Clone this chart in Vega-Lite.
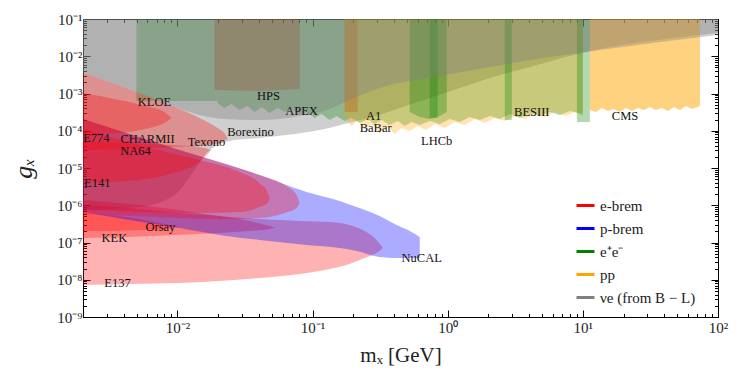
{
  "$schema": "https://vega.github.io/schema/vega-lite/v6.json",
  "width": 635,
  "height": 298,
  "autosize": {"type": "none"},
  "padding": {"left": 83, "top": 19, "right": 38, "bottom": 60},
  "background": "white",
  "config": {"view": {"stroke": "black", "strokeWidth": 1}, "legend": {"labelFont": "Liberation Serif"}},
  "datasets": {
    "regions": [
      {"r":"Borexino","g":"νe (from B − L)","x":0.002,"lo":7.45e-7,"hi":0.1},
      {"r":"Borexino","g":"νe (from B − L)","x":0.00523,"lo":8.97e-7,"hi":0.1},
      {"r":"Borexino","g":"νe (from B − L)","x":0.00951,"lo":1.88e-6,"hi":0.1},
      {"r":"Borexino","g":"νe (from B − L)","x":0.01336,"lo":8.83e-6,"hi":0.1},
      {"r":"Borexino","g":"νe (from B − L)","x":0.01668,"lo":2.69e-5,"hi":0.1},
      {"r":"Borexino","g":"νe (from B − L)","x":0.02047,"lo":4.41e-5,"hi":0.1},
      {"r":"Borexino","g":"νe (from B − L)","x":0.02427,"lo":5.31e-5,"hi":0.1},
      {"r":"Borexino","g":"νe (from B − L)","x":0.04047,"lo":6.39e-5,"hi":0.1},
      {"r":"Borexino","g":"νe (from B − L)","x":0.06412,"lo":7.69e-5,"hi":0.1},
      {"r":"Borexino","g":"νe (from B − L)","x":0.1127,"lo":1.05e-4,"hi":0.1},
      {"r":"Borexino","g":"νe (from B − L)","x":0.1977,"lo":1.72e-4,"hi":0.1},
      {"r":"Borexino","g":"νe (from B − L)","x":0.3133,"lo":2.65e-4,"hi":0.1},
      {"r":"Borexino","g":"νe (from B − L)","x":0.4409,"lo":4.08e-4,"hi":0.1},
      {"r":"Borexino","g":"νe (from B − L)","x":0.7357,"lo":7.57e-4,"hi":0.1},
      {"r":"Borexino","g":"νe (from B − L)","x":1.227,"lo":1.41e-3,"hi":0.1},
      {"r":"Borexino","g":"νe (from B − L)","x":2.047,"lo":2.61e-3,"hi":0.1},
      {"r":"Borexino","g":"νe (from B − L)","x":4.047,"lo":5.14e-3,"hi":0.1},
      {"r":"Borexino","g":"νe (from B − L)","x":8.017,"lo":1.02e-2,"hi":0.1},
      {"r":"Borexino","g":"νe (from B − L)","x":15.85,"lo":1.77e-2,"hi":0.1},
      {"r":"Borexino","g":"νe (from B − L)","x":31.33,"lo":2.57e-2,"hi":0.1},
      {"r":"Borexino","g":"νe (from B − L)","x":62.05,"lo":3.50e-2,"hi":0.1},
      {"r":"Borexino","g":"νe (from B − L)","x":100,"lo":4.21e-2,"hi":0.1},

      {"r":"Texono","g":"νe (from B − L)","x":0.002,"lo":3.55e-3,"hi":0.1},
      {"r":"Texono","g":"νe (from B − L)","x":0.00313,"lo":2.04e-3,"hi":0.1},
      {"r":"Texono","g":"νe (from B − L)","x":0.00497,"lo":1.10e-3,"hi":0.1},
      {"r":"Texono","g":"νe (from B − L)","x":0.00918,"lo":4.62e-4,"hi":0.1},
      {"r":"Texono","g":"νe (from B − L)","x":0.01456,"lo":2.65e-4,"hi":0.1},
      {"r":"Texono","g":"νe (from B − L)","x":0.02228,"lo":2.07e-4,"hi":0.1},
      {"r":"Texono","g":"νe (from B − L)","x":0.04047,"lo":1.94e-4,"hi":0.1},
      {"r":"Texono","g":"νe (from B − L)","x":0.08017,"lo":2.49e-4,"hi":0.1},
      {"r":"Texono","g":"νe (from B − L)","x":0.1337,"lo":3.84e-4,"hi":0.1},
      {"r":"Texono","g":"νe (from B − L)","x":0.188,"lo":6.69e-4,"hi":0.1},
      {"r":"Texono","g":"νe (from B − L)","x":0.3133,"lo":1.41e-3,"hi":0.1},
      {"r":"Texono","g":"νe (from B − L)","x":0.8724,"lo":2.95e-3,"hi":0.1},
      {"r":"Texono","g":"νe (from B − L)","x":2.047,"lo":5.14e-3,"hi":0.1},
      {"r":"Texono","g":"νe (from B − L)","x":5.698,"lo":9.55e-3,"hi":0.1},
      {"r":"Texono","g":"νe (from B − L)","x":13.37,"lo":1.47e-2,"hi":0.1},
      {"r":"Texono","g":"νe (from B − L)","x":37.14,"lo":2.41e-2,"hi":0.1},
      {"r":"Texono","g":"νe (from B − L)","x":100,"lo":3.72e-2,"hi":0.1},

      {"r":"E137","g":"e-brem","x":0.002,"lo":7.23e-9,"hi":1.02e-6},
      {"r":"E137","g":"e-brem","x":0.00441,"lo":7.69e-9,"hi":8.44e-7},
      {"r":"E137","g":"e-brem","x":0.01,"lo":8.18e-9,"hi":6.19e-7},
      {"r":"E137","g":"e-brem","x":0.02047,"lo":9.25e-9,"hi":5.14e-7},
      {"r":"E137","g":"e-brem","x":0.04047,"lo":1.11e-8,"hi":4.27e-7},
      {"r":"E137","g":"e-brem","x":0.08017,"lo":1.43e-8,"hi":3.78e-7},
      {"r":"E137","g":"e-brem","x":0.1337,"lo":1.95e-8,"hi":3.55e-7},
      {"r":"E137","g":"e-brem","x":0.188,"lo":2.65e-8,"hi":2.95e-7},
      {"r":"E137","g":"e-brem","x":0.2427,"lo":3.84e-8,"hi":2.04e-7},
      {"r":"E137","g":"e-brem","x":0.2877,"lo":4.91e-8,"hi":1.32e-7},
      {"r":"E137","g":"e-brem","x":0.319,"lo":6.29e-8,"hi":8.57e-8},
      {"r":"E137","g":"e-brem","x":0.3303,"lo":7.3e-8,"hi":7.3e-8},
      {"r":"KEK","g":"e-brem","x":0.002,"lo":1.32e-7,"hi":1.38e-6},
      {"r":"KEK","g":"e-brem","x":0.00441,"lo":1.41e-7,"hi":1.08e-6},
      {"r":"KEK","g":"e-brem","x":0.01,"lo":1.59e-7,"hi":7.45e-7},
      {"r":"KEK","g":"e-brem","x":0.02047,"lo":1.80e-7,"hi":5.14e-7},
      {"r":"KEK","g":"e-brem","x":0.03413,"lo":2.04e-7,"hi":3.78e-7},
      {"r":"KEK","g":"e-brem","x":0.04797,"lo":2.30e-7,"hi":2.77e-7},
      {"r":"KEK","g":"e-brem","x":0.0532,"lo":2.53e-7,"hi":2.53e-7},
      {"r":"Orsay","g":"e-brem","x":0.002,"lo":2.04e-7,"hi":6.19e-7},
      {"r":"Orsay","g":"e-brem","x":0.00313,"lo":2.04e-7,"hi":5.47e-7},
      {"r":"Orsay","g":"e-brem","x":0.00523,"lo":2.17e-7,"hi":4.27e-7},
      {"r":"Orsay","g":"e-brem","x":0.00736,"lo":2.23e-7,"hi":3.34e-7},
      {"r":"Orsay","g":"e-brem","x":0.01035,"lo":2.6e-7,"hi":2.6e-7},
      {"r":"NA64","g":"e-brem","x":0.002,"lo":5.82e-7,"hi":2.07e-4},
      {"r":"NA64","g":"e-brem","x":0.00441,"lo":5.14e-7,"hi":8.18e-5},
      {"r":"NA64","g":"e-brem","x":0.01035,"lo":4.55e-7,"hi":3.04e-5},
      {"r":"NA64","g":"e-brem","x":0.02154,"lo":4.27e-7,"hi":1.36e-5},
      {"r":"NA64","g":"e-brem","x":0.04047,"lo":4.55e-7,"hi":6.49e-6},
      {"r":"NA64","g":"e-brem","x":0.0621,"lo":6.19e-7,"hi":3.50e-6},
      {"r":"NA64","g":"e-brem","x":0.07608,"lo":8.44e-7,"hi":1.88e-6},
      {"r":"NA64","g":"e-brem","x":0.08017,"lo":1.15e-6,"hi":1.15e-6},

      {"r":"NuCAL","g":"p-brem","x":0.002,"lo":6.59e-7,"hi":2.07e-4},
      {"r":"NuCAL","g":"p-brem","x":0.00441,"lo":4.02e-7,"hi":8.18e-5},
      {"r":"NuCAL","g":"p-brem","x":0.01035,"lo":2.45e-7,"hi":3.04e-5},
      {"r":"NuCAL","g":"p-brem","x":0.02154,"lo":1.54e-7,"hi":1.36e-5},
      {"r":"NuCAL","g":"p-brem","x":0.04047,"lo":1.17e-7,"hi":6.49e-6},
      {"r":"NuCAL","g":"p-brem","x":0.0903,"lo":8.57e-8,"hi":2.27e-6},
      {"r":"NuCAL","g":"p-brem","x":0.1585,"lo":7.11e-8,"hi":1.30e-6},
      {"r":"NuCAL","g":"p-brem","x":0.2117,"lo":5.92e-8,"hi":8.97e-7},
      {"r":"NuCAL","g":"p-brem","x":0.3133,"lo":4.08e-8,"hi":5.14e-7},
      {"r":"NuCAL","g":"p-brem","x":0.4188,"lo":3.84e-8,"hi":2.95e-7},
      {"r":"NuCAL","g":"p-brem","x":0.5231,"lo":3.84e-8,"hi":2.04e-7},
      {"r":"NuCAL","g":"p-brem","x":0.6205,"lo":3.84e-8,"hi":1.41e-7},

      {"r":"E141","g":"e-brem","x":0.002,"lo":7.45e-7,"hi":1.19e-4},
      {"r":"E141","g":"e-brem","x":0.00621,"lo":6.59e-7,"hi":3.44e-5},
      {"r":"E141","g":"e-brem","x":0.01456,"lo":6.19e-7,"hi":1.64e-5},
      {"r":"E141","g":"e-brem","x":0.02878,"lo":6.59e-7,"hi":7.81e-6},
      {"r":"E141","g":"e-brem","x":0.04047,"lo":8.97e-7,"hi":3.96e-6},
      {"r":"E141","g":"e-brem","x":0.04642,"lo":1.15e-6,"hi":2.27e-6},
      {"r":"E141","g":"e-brem","x":0.04797,"lo":1.57e-6,"hi":1.57e-6},
      {"r":"E141b","g":"e-brem","x":0.002,"lo":3.96e-6,"hi":4.99e-5},
      {"r":"E141b","g":"e-brem","x":0.00441,"lo":4.48e-6,"hi":4.69e-5},
      {"r":"E141b","g":"e-brem","x":0.00873,"lo":6.90e-6,"hi":4.14e-5},
      {"r":"E141b","g":"e-brem","x":0.01456,"lo":1.45e-5,"hi":3.66e-5},
      {"r":"E141b","g":"e-brem","x":0.01786,"lo":3.04e-5,"hi":3.04e-5},
      {"r":"E774","g":"e-brem","x":0.002,"lo":7.69e-5,"hi":1.03e-3},
      {"r":"E774","g":"e-brem","x":0.00372,"lo":8.71e-5,"hi":6.69e-4},
      {"r":"E774","g":"e-brem","x":0.00621,"lo":1.19e-4,"hi":4.34e-4},
      {"r":"E774","g":"e-brem","x":0.00801,"lo":1.61e-4,"hi":3.19e-4},
      {"r":"E774","g":"e-brem","x":0.00903,"lo":2.2e-4,"hi":2.2e-4},
      {"r":"CHARMII","g":"e-brem","x":0.002,"lo":3.04e-5,"hi":3.55e-3},
      {"r":"CHARMII","g":"e-brem","x":0.00313,"lo":3.14e-5,"hi":2.04e-3},
      {"r":"CHARMII","g":"e-brem","x":0.00497,"lo":3.24e-5,"hi":1.10e-3},
      {"r":"CHARMII","g":"e-brem","x":0.00918,"lo":3.66e-5,"hi":4.62e-4},
      {"r":"CHARMII","g":"e-brem","x":0.01456,"lo":3.90e-5,"hi":2.20e-4},
      {"r":"CHARMII","g":"e-brem","x":0.01879,"lo":4.41e-5,"hi":1.34e-4},
      {"r":"CHARMII","g":"e-brem","x":0.02047,"lo":4.69e-5,"hi":1.10e-4},
      {"r":"CHARMII","g":"e-brem","x":0.02228,"lo":5.31e-5,"hi":8.71e-5},
      {"r":"CHARMII","g":"e-brem","x":0.02346,"lo":6.19e-5,"hi":6.19e-5},

      {"r":"KLOE","g":"e⁺e⁻","x":0.00497,"lo":6.29e-4,"hi":0.1},
      {"r":"KLOE","g":"e⁺e⁻","x":0.01977,"lo":6.29e-4,"hi":0.1},
      {"r":"BaBar","g":"e⁺e⁻","x":0.01977,"lo":5.56e-4,"hi":0.1},
      {"r":"BaBar","g":"e⁺e⁻","x":0.02228,"lo":4.08e-4,"hi":0.1},
      {"r":"BaBar","g":"e⁺e⁻","x":0.02512,"lo":5.23e-4,"hi":0.1},
      {"r":"BaBar","g":"e⁺e⁻","x":0.02878,"lo":3.61e-4,"hi":0.1},
      {"r":"BaBar","g":"e⁺e⁻","x":0.03302,"lo":4.62e-4,"hi":0.1},
      {"r":"BaBar","g":"e⁺e⁻","x":0.03716,"lo":3.19e-4,"hi":0.1},
      {"r":"BaBar","g":"e⁺e⁻","x":0.04188,"lo":4.34e-4,"hi":0.1},
      {"r":"BaBar","g":"e⁺e⁻","x":0.04797,"lo":3.00e-4,"hi":0.1},
      {"r":"BaBar","g":"e⁺e⁻","x":0.05508,"lo":4.08e-4,"hi":0.1},
      {"r":"BaBar","g":"e⁺e⁻","x":0.06209,"lo":3.19e-4,"hi":0.1},
      {"r":"BaBar","g":"e⁺e⁻","x":0.0699,"lo":3.84e-4,"hi":0.1},
      {"r":"BaBar","g":"e⁺e⁻","x":0.08017,"lo":2.65e-4,"hi":0.1},
      {"r":"BaBar","g":"e⁺e⁻","x":0.0903,"lo":3.19e-4,"hi":0.1},
      {"r":"BaBar","g":"e⁺e⁻","x":0.1035,"lo":2.20e-4,"hi":0.1},
      {"r":"BaBar","g":"e⁺e⁻","x":0.1166,"lo":2.82e-4,"hi":0.1},
      {"r":"BaBar","g":"e⁺e⁻","x":0.1337,"lo":1.94e-4,"hi":0.1},
      {"r":"BaBar","g":"e⁺e⁻","x":0.1506,"lo":2.49e-4,"hi":0.1},
      {"r":"BaBar","g":"e⁺e⁻","x":0.1726,"lo":1.83e-4,"hi":0.1},
      {"r":"BaBar","g":"e⁺e⁻","x":0.1945,"lo":2.20e-4,"hi":0.1},
      {"r":"BaBar","g":"e⁺e⁻","x":0.2228,"lo":1.61e-4,"hi":0.1},
      {"r":"BaBar","g":"e⁺e⁻","x":0.2555,"lo":2.07e-4,"hi":0.1},
      {"r":"BaBar","g":"e⁺e⁻","x":0.2877,"lo":1.52e-4,"hi":0.1},
      {"r":"BaBar","g":"e⁺e⁻","x":0.3245,"lo":1.94e-4,"hi":0.1},
      {"r":"BaBar","g":"e⁺e⁻","x":0.3716,"lo":1.43e-4,"hi":0.1},
      {"r":"BaBar","g":"e⁺e⁻","x":0.4263,"lo":1.83e-4,"hi":0.1},
      {"r":"BaBar","g":"e⁺e⁻","x":0.4801,"lo":1.34e-4,"hi":0.1},
      {"r":"BaBar","g":"e⁺e⁻","x":0.5412,"lo":1.72e-4,"hi":0.1},
      {"r":"BaBar","g":"e⁺e⁻","x":0.6205,"lo":1.43e-4,"hi":0.1},
      {"r":"BaBar","g":"e⁺e⁻","x":0.7357,"lo":1.83e-4,"hi":0.1},
      {"r":"BaBar","g":"e⁺e⁻","x":0.8724,"lo":1.52e-4,"hi":0.1},
      {"r":"BaBar","g":"e⁺e⁻","x":1.035,"lo":2.07e-4,"hi":0.1},
      {"r":"BaBar","g":"e⁺e⁻","x":1.227,"lo":1.72e-4,"hi":0.1},
      {"r":"BaBar","g":"e⁺e⁻","x":1.455,"lo":2.34e-4,"hi":0.1},
      {"r":"BaBar","g":"e⁺e⁻","x":1.726,"lo":1.94e-4,"hi":0.1},
      {"r":"BaBar","g":"e⁺e⁻","x":2.047,"lo":2.49e-4,"hi":0.1},
      {"r":"BaBar","g":"e⁺e⁻","x":2.427,"lo":2.07e-4,"hi":0.1},
      {"r":"BaBar","g":"e⁺e⁻","x":2.879,"lo":2.82e-4,"hi":0.1},
      {"r":"BaBar","g":"e⁺e⁻","x":3.413,"lo":2.20e-4,"hi":0.1},
      {"r":"BaBar","g":"e⁺e⁻","x":4.047,"lo":3.00e-4,"hi":0.1},
      {"r":"BaBar","g":"e⁺e⁻","x":4.8,"lo":2.49e-4,"hi":0.1},
      {"r":"BaBar","g":"e⁺e⁻","x":5.698,"lo":3.19e-4,"hi":0.1},
      {"r":"BaBar","g":"e⁺e⁻","x":6.761,"lo":2.65e-4,"hi":0.1},
      {"r":"BaBar","g":"e⁺e⁻","x":8.017,"lo":3.39e-4,"hi":0.1},
      {"r":"BaBar","g":"e⁺e⁻","x":10,"lo":2.82e-4,"hi":0.1},
      {"r":"KLOE2","g":"e⁺e⁻","x":0.5231,"lo":3.19e-4,"hi":0.1},
      {"r":"KLOE2","g":"e⁺e⁻","x":0.6205,"lo":2.34e-4,"hi":0.1},
      {"r":"KLOE2","g":"e⁺e⁻","x":0.7357,"lo":2.07e-4,"hi":0.1},
      {"r":"KLOE2","g":"e⁺e⁻","x":0.8724,"lo":2.49e-4,"hi":0.1},
      {"r":"KLOE2","g":"e⁺e⁻","x":0.983,"lo":3.19e-4,"hi":0.1},
      {"r":"KLOE3","g":"e⁺e⁻","x":0.7357,"lo":2.2e-4,"hi":0.1},
      {"r":"KLOE3","g":"e⁺e⁻","x":0.843,"lo":2.2e-4,"hi":0.1},
      {"r":"BESIII1","g":"e⁺e⁻","x":2.644,"lo":1.94e-4,"hi":0.1},
      {"r":"BESIII1","g":"e⁺e⁻","x":2.979,"lo":1.94e-4,"hi":0.1},
      {"r":"BESIII2","g":"e⁺e⁻","x":9.03,"lo":1.72e-4,"hi":0.1},
      {"r":"BESIII2","g":"e⁺e⁻","x":11.27,"lo":1.72e-4,"hi":0.1},

      {"r":"LHCb","g":"pp","x":0.1726,"lo":2.20e-4,"hi":0.1},
      {"r":"LHCb","g":"pp","x":0.1945,"lo":1.34e-4,"hi":0.1},
      {"r":"LHCb","g":"pp","x":0.2155,"lo":1.94e-4,"hi":0.1},
      {"r":"LHCb","g":"pp","x":0.2427,"lo":1.05e-4,"hi":0.1},
      {"r":"LHCb","g":"pp","x":0.2735,"lo":1.52e-4,"hi":0.1},
      {"r":"LHCb","g":"pp","x":0.3133,"lo":8.71e-5,"hi":0.1},
      {"r":"LHCb","g":"pp","x":0.3597,"lo":1.26e-4,"hi":0.1},
      {"r":"LHCb","g":"pp","x":0.4048,"lo":8.18e-5,"hi":0.1},
      {"r":"LHCb","g":"pp","x":0.4564,"lo":1.19e-4,"hi":0.1},
      {"r":"LHCb","g":"pp","x":0.5231,"lo":9.84e-5,"hi":0.1},
      {"r":"LHCb","g":"pp","x":0.5998,"lo":1.34e-4,"hi":0.1},
      {"r":"LHCb","g":"pp","x":0.6871,"lo":1.05e-4,"hi":0.1},
      {"r":"LHCb","g":"pp","x":0.8013,"lo":1.52e-4,"hi":0.1},
      {"r":"LHCb","g":"pp","x":0.9501,"lo":1.19e-4,"hi":0.1},
      {"r":"LHCb","g":"pp","x":1.127,"lo":1.72e-4,"hi":0.1},
      {"r":"LHCb","g":"pp","x":1.336,"lo":1.43e-4,"hi":0.1},
      {"r":"LHCb","g":"pp","x":1.585,"lo":2.07e-4,"hi":0.1},
      {"r":"LHCb","g":"pp","x":1.879,"lo":1.61e-4,"hi":0.1},
      {"r":"LHCb","g":"pp","x":2.229,"lo":2.20e-4,"hi":0.1},
      {"r":"LHCb","g":"pp","x":2.644,"lo":1.83e-4,"hi":0.1},
      {"r":"LHCb","g":"pp","x":3.135,"lo":2.49e-4,"hi":0.1},
      {"r":"LHCb","g":"pp","x":3.714,"lo":2.07e-4,"hi":0.1},
      {"r":"LHCb","g":"pp","x":4.406,"lo":2.82e-4,"hi":0.1},
      {"r":"LHCb","g":"pp","x":5.23,"lo":2.34e-4,"hi":0.1},
      {"r":"LHCb","g":"pp","x":6.2,"lo":3.19e-4,"hi":0.1},
      {"r":"LHCb","g":"pp","x":7.36,"lo":2.49e-4,"hi":0.1},
      {"r":"LHCb","g":"pp","x":8.72,"lo":3.19e-4,"hi":0.1},
      {"r":"LHCb","g":"pp","x":10,"lo":2.49e-4,"hi":0.1},
      {"r":"CMS","g":"pp","x":11.27,"lo":3.61e-4,"hi":0.1},
      {"r":"CMS","g":"pp","x":12.48,"lo":3.19e-4,"hi":0.1},
      {"r":"CMS","g":"pp","x":13.83,"lo":4.08e-4,"hi":0.1},
      {"r":"CMS","g":"pp","x":15.32,"lo":3.39e-4,"hi":0.1},
      {"r":"CMS","g":"pp","x":16.97,"lo":3.84e-4,"hi":0.1},
      {"r":"CMS","g":"pp","x":18.80,"lo":3.19e-4,"hi":0.1},
      {"r":"CMS","g":"pp","x":20.82,"lo":4.08e-4,"hi":0.1},
      {"r":"CMS","g":"pp","x":23.07,"lo":3.39e-4,"hi":0.1},
      {"r":"CMS","g":"pp","x":25.55,"lo":4.08e-4,"hi":0.1},
      {"r":"CMS","g":"pp","x":28.31,"lo":3.61e-4,"hi":0.1},
      {"r":"CMS","g":"pp","x":31.33,"lo":4.34e-4,"hi":0.1},
      {"r":"CMS","g":"pp","x":34.73,"lo":3.61e-4,"hi":0.1},
      {"r":"CMS","g":"pp","x":38.46,"lo":4.08e-4,"hi":0.1},
      {"r":"CMS","g":"pp","x":42.63,"lo":3.39e-4,"hi":0.1},
      {"r":"CMS","g":"pp","x":47.22,"lo":4.34e-4,"hi":0.1},
      {"r":"CMS","g":"pp","x":52.32,"lo":3.61e-4,"hi":0.1},
      {"r":"CMS","g":"pp","x":57.94,"lo":4.62e-4,"hi":0.1},
      {"r":"CMS","g":"pp","x":64.17,"lo":3.84e-4,"hi":0.1},
      {"r":"CMS","g":"pp","x":73.57,"lo":4.62e-4,"hi":0.1},

      {"r":"HPS","g":"e-brem","x":0.01879,"lo":1.24e-3,"hi":0.1},
      {"r":"HPS","g":"e-brem","x":0.04047,"lo":1.17e-3,"hi":0.1},
      {"r":"HPS","g":"e-brem","x":0.08017,"lo":1.32e-3,"hi":0.1},
      {"r":"A1","g":"e-brem","x":0.1726,"lo":3.19e-4,"hi":0.1},
      {"r":"A1","g":"e-brem","x":0.2155,"lo":3.19e-4,"hi":0.1}
    ],
    "labels": [
      {"name":"KLOE","x":0.00676,"y":5.91e-4},
      {"name":"HPS","x":0.0472,"y":8.57e-4},
      {"name":"APEX","x":0.0829,"y":3.39e-4},
      {"name":"A1","x":0.283,"y":2.49e-4},
      {"name":"BaBar","x":0.293,"y":1.15e-4},
      {"name":"LHCb","x":0.829,"y":5.31e-5},
      {"name":"BESIII","x":4.19,"y":3.19e-4},
      {"name":"CMS","x":20.5,"y":2.49e-4},
      {"name":"Borexino","x":0.0347,"y":9.25e-5},
      {"name":"Texono","x":0.0164,"y":4.99e-5},
      {"name":"CHARMII","x":0.0060,"y":6.19e-5},
      {"name":"E774","x":0.00251,"y":6.39e-5},
      {"name":"NA64","x":0.00489,"y":2.86e-5},
      {"name":"E141","x":0.00255,"y":3.96e-6},
      {"name":"Orsay","x":0.00748,"y":2.61e-7},
      {"name":"KEK","x":0.00341,"y":1.32e-7},
      {"name":"E137","x":0.0036,"y":8.18e-9},
      {"name":"NuCAL","x":0.642,"y":3.84e-8}
    ]
  },
  "resolve": {"axis": {"x": "independent", "y": "independent"}},
  "layer": [
    {
      "data": {"name": "regions"},
      "transform": [{"filter": {"field": "r", "oneOf": ["Borexino"]}}],
      "mark": {"type": "area", "opacity": 0.38, "interpolate": "monotone"},
      "encoding": {
        "x": {"field": "x", "type": "quantitative",
          "scale": {"type": "log", "domain": [0.002, 100], "nice": false},
          "axis": {
            "orient": "bottom",
            "values": [0.002,0.003,0.004,0.005,0.006,0.007,0.008,0.009,0.01,0.02,0.03,0.04,0.05,0.06,0.07,0.08,0.09,0.1,0.2,0.3,0.4,0.5,0.6,0.7,0.8,0.9,1,2,3,4,5,6,7,8,9,10,20,30,40,50,60,70,80,90,100],
            "labelExpr": "abs(log(datum.value)/LN10 - round(log(datum.value)/LN10)) < 0.01 ? '10' + ['⁻⁹','⁻⁸','⁻⁷','⁻⁶','⁻⁵','⁻⁴','⁻³','⁻²','⁻¹','⁰','¹','²'][round(log(datum.value)/LN10) + 9] : ''",
            "tickSize": {"condition": {"test": "abs(log(datum.value)/LN10 - round(log(datum.value)/LN10)) < 0.01", "value": -7}, "value": -3.5},
            "tickColor": "black", "domainColor": "black", "grid": false,
            "labelFont": "Liberation Serif", "labelFontSize": 15, "labelColor": "#222",
            "labelPadding": 10, "labelOverlap": false, "labelFlush": false,
            "title": "mₓ [GeV]", "titleFont": "Liberation Serif", "titleFontSize": 21,
            "titleFontWeight": "normal", "titleColor": "#222", "titlePadding": 6
          }},
        "y": {"field": "hi", "type": "quantitative",
          "scale": {"type": "log", "domain": [1e-9, 0.1], "nice": false},
          "axis": {
            "orient": "left",
            "values": [1e-9,2e-9,3e-9,4e-9,5e-9,6e-9,7e-9,8e-9,9e-9,1e-8,2e-8,3e-8,4e-8,5e-8,6e-8,7e-8,8e-8,9e-8,1e-7,2e-7,3e-7,4e-7,5e-7,6e-7,7e-7,8e-7,9e-7,1e-6,2e-6,3e-6,4e-6,5e-6,6e-6,7e-6,8e-6,9e-6,1e-5,2e-5,3e-5,4e-5,5e-5,6e-5,7e-5,8e-5,9e-5,1e-4,2e-4,3e-4,4e-4,5e-4,6e-4,7e-4,8e-4,9e-4,1e-3,2e-3,3e-3,4e-3,5e-3,6e-3,7e-3,8e-3,9e-3,0.01,0.02,0.03,0.04,0.05,0.06,0.07,0.08,0.09,0.1],
            "labelExpr": "abs(log(datum.value)/LN10 - round(log(datum.value)/LN10)) < 0.01 ? '10' + ['⁻⁹','⁻⁸','⁻⁷','⁻⁶','⁻⁵','⁻⁴','⁻³','⁻²','⁻¹','⁰','¹','²'][round(log(datum.value)/LN10) + 9] : ''",
            "tickSize": {"condition": {"test": "abs(log(datum.value)/LN10 - round(log(datum.value)/LN10)) < 0.01", "value": -7}, "value": -3.5},
            "tickColor": "black", "domainColor": "black", "grid": false,
            "labelFont": "Liberation Serif", "labelFontSize": 15, "labelColor": "#222",
            "labelPadding": 8, "labelOverlap": false, "labelFlush": false,
            "title": "gₓ", "titleFont": "Liberation Serif", "titleFontSize": 26,
            "titleFontWeight": "normal", "titleFontStyle": "italic", "titleColor": "#222",
            "titleX": -52, "titleY": 149, "titleAngle": -90, "titleAlign": "center", "titleBaseline": "alphabetic"
          }},
        "y2": {"field": "lo"},
        "detail": {"field": "r"},
        "color": {"field": "g", "type": "nominal",
          "scale": {"domain": ["e-brem", "p-brem", "e⁺e⁻", "pp", "νe (from B − L)"],
                    "range": ["#ff0000", "#0000ff", "#008000", "#ffa500", "#808080"]},
          "legend": {
            "title": null, "orient": "none", "legendX": 492, "legendY": 176,
            "symbolType": "stroke", "symbolSize": 324, "symbolStrokeWidth": 3, "symbolOpacity": 1,
            "labelFont": "Liberation Serif", "labelFontSize": 15, "labelColor": "#222",
            "rowPadding": 4, "labelOffset": 4, "padding": 0,
            "encode": {"symbols": {"update": {"stroke": {"scale": "color", "field": "value"}, "strokeWidth": {"value": 3}, "opacity": {"value": 1}}}}
          }}
      }
    },
    {
      "data": {"name": "regions"},
      "transform": [{"filter": {"field": "r", "oneOf": ["HPS", "A1"]}}],
      "mark": {"type": "area", "opacity": 0.3, "interpolate": "linear"},
      "encoding": {
        "x": {"field": "x", "type": "quantitative", "scale": {"type": "log", "domain": [0.002, 100], "nice": false}, "axis": null},
        "y": {"field": "hi", "type": "quantitative", "scale": {"type": "log", "domain": [1e-9, 0.1], "nice": false}, "axis": null},
        "y2": {"field": "lo"},
        "detail": {"field": "r"},
        "color": {"field": "g", "type": "nominal"}
      }
    },
    {
      "data": {"name": "regions"},
      "transform": [{"filter": {"field": "r", "oneOf": ["KLOE", "BaBar"]}}],
      "mark": {"type": "area", "opacity": 0.3, "interpolate": "linear"},
      "encoding": {
        "x": {"field": "x", "type": "quantitative", "scale": {"type": "log", "domain": [0.002, 100], "nice": false}, "axis": null},
        "y": {"field": "hi", "type": "quantitative", "scale": {"type": "log", "domain": [1e-9, 0.1], "nice": false}, "axis": null},
        "y2": {"field": "lo"},
        "detail": {"field": "r"},
        "color": {"field": "g", "type": "nominal"}
      }
    },
    {
      "data": {"name": "regions"},
      "transform": [{"filter": {"field": "r", "oneOf": ["LHCb"]}}],
      "mark": {"type": "area", "opacity": 0.3, "interpolate": "linear"},
      "encoding": {
        "x": {"field": "x", "type": "quantitative", "scale": {"type": "log", "domain": [0.002, 100], "nice": false}, "axis": null},
        "y": {"field": "hi", "type": "quantitative", "scale": {"type": "log", "domain": [1e-9, 0.1], "nice": false}, "axis": null},
        "y2": {"field": "lo"},
        "detail": {"field": "r"},
        "color": {"field": "g", "type": "nominal"}
      }
    },
    {
      "data": {"name": "regions"},
      "transform": [{"filter": {"field": "r", "oneOf": ["CMS"]}}],
      "mark": {"type": "area", "opacity": 0.5, "interpolate": "linear"},
      "encoding": {
        "x": {"field": "x", "type": "quantitative", "scale": {"type": "log", "domain": [0.002, 100], "nice": false}, "axis": null},
        "y": {"field": "hi", "type": "quantitative", "scale": {"type": "log", "domain": [1e-9, 0.1], "nice": false}, "axis": null},
        "y2": {"field": "lo"},
        "detail": {"field": "r"},
        "color": {"field": "g", "type": "nominal"}
      }
    },
    {
      "data": {"name": "regions"},
      "transform": [{"filter": {"field": "r", "oneOf": ["KLOE2", "KLOE3", "BESIII1", "BESIII2"]}}],
      "mark": {"type": "area", "opacity": 0.3, "interpolate": "linear"},
      "encoding": {
        "x": {"field": "x", "type": "quantitative", "scale": {"type": "log", "domain": [0.002, 100], "nice": false}, "axis": null},
        "y": {"field": "hi", "type": "quantitative", "scale": {"type": "log", "domain": [1e-9, 0.1], "nice": false}, "axis": null},
        "y2": {"field": "lo"},
        "detail": {"field": "r"},
        "color": {"field": "g", "type": "nominal"}
      }
    },
    {
      "data": {"name": "regions"},
      "transform": [{"filter": {"field": "r", "oneOf": ["Texono"]}}],
      "mark": {"type": "area", "opacity": 0.38, "interpolate": "monotone"},
      "encoding": {
        "x": {"field": "x", "type": "quantitative", "scale": {"type": "log", "domain": [0.002, 100], "nice": false}, "axis": null},
        "y": {"field": "hi", "type": "quantitative", "scale": {"type": "log", "domain": [1e-9, 0.1], "nice": false}, "axis": null},
        "y2": {"field": "lo"},
        "detail": {"field": "r"},
        "color": {"field": "g", "type": "nominal"}
      }
    },
    {
      "data": {"name": "regions"},
      "transform": [{"filter": {"field": "r", "oneOf": ["E137", "KEK", "Orsay"]}}],
      "mark": {"type": "area", "opacity": 0.3, "interpolate": "monotone"},
      "encoding": {
        "x": {"field": "x", "type": "quantitative", "scale": {"type": "log", "domain": [0.002, 100], "nice": false}, "axis": null},
        "y": {"field": "hi", "type": "quantitative", "scale": {"type": "log", "domain": [1e-9, 0.1], "nice": false}, "axis": null},
        "y2": {"field": "lo"},
        "detail": {"field": "r"},
        "color": {"field": "g", "type": "nominal"}
      }
    },
    {
      "data": {"name": "regions"},
      "transform": [{"filter": {"field": "r", "oneOf": ["NuCAL"]}}],
      "mark": {"type": "area", "opacity": 0.33, "interpolate": "monotone"},
      "encoding": {
        "x": {"field": "x", "type": "quantitative", "scale": {"type": "log", "domain": [0.002, 100], "nice": false}, "axis": null},
        "y": {"field": "hi", "type": "quantitative", "scale": {"type": "log", "domain": [1e-9, 0.1], "nice": false}, "axis": null},
        "y2": {"field": "lo"},
        "detail": {"field": "r"},
        "color": {"field": "g", "type": "nominal"}
      }
    },
    {
      "data": {"name": "regions"},
      "transform": [{"filter": {"field": "r", "oneOf": ["NA64", "E141", "E141b", "E774", "CHARMII"]}}],
      "mark": {"type": "area", "opacity": 0.3, "interpolate": "monotone"},
      "encoding": {
        "x": {"field": "x", "type": "quantitative", "scale": {"type": "log", "domain": [0.002, 100], "nice": false}, "axis": null},
        "y": {"field": "hi", "type": "quantitative", "scale": {"type": "log", "domain": [1e-9, 0.1], "nice": false}, "axis": null},
        "y2": {"field": "lo"},
        "detail": {"field": "r"},
        "color": {"field": "g", "type": "nominal"}
      }
    },
    {
      "data": {"name": "labels"},
      "mark": {"type": "text", "font": "Liberation Serif", "fontSize": 12.5, "color": "#111", "align": "center", "baseline": "middle"},
      "encoding": {
        "x": {"field": "x", "type": "quantitative",
          "scale": {"type": "log", "domain": [0.002, 100], "nice": false},
          "axis": {
            "orient": "top", "labels": false, "title": null, "grid": false,
            "values": [0.002,0.003,0.004,0.005,0.006,0.007,0.008,0.009,0.01,0.02,0.03,0.04,0.05,0.06,0.07,0.08,0.09,0.1,0.2,0.3,0.4,0.5,0.6,0.7,0.8,0.9,1,2,3,4,5,6,7,8,9,10,20,30,40,50,60,70,80,90,100],
            "tickSize": {"condition": {"test": "abs(log(datum.value)/LN10 - round(log(datum.value)/LN10)) < 0.01", "value": -7}, "value": -3.5},
            "tickColor": "black", "domainColor": "black"
          }},
        "y": {"field": "y", "type": "quantitative",
          "scale": {"type": "log", "domain": [1e-9, 0.1], "nice": false},
          "axis": {
            "orient": "right", "labels": false, "title": null, "grid": false,
            "values": [1e-9,2e-9,3e-9,4e-9,5e-9,6e-9,7e-9,8e-9,9e-9,1e-8,2e-8,3e-8,4e-8,5e-8,6e-8,7e-8,8e-8,9e-8,1e-7,2e-7,3e-7,4e-7,5e-7,6e-7,7e-7,8e-7,9e-7,1e-6,2e-6,3e-6,4e-6,5e-6,6e-6,7e-6,8e-6,9e-6,1e-5,2e-5,3e-5,4e-5,5e-5,6e-5,7e-5,8e-5,9e-5,1e-4,2e-4,3e-4,4e-4,5e-4,6e-4,7e-4,8e-4,9e-4,1e-3,2e-3,3e-3,4e-3,5e-3,6e-3,7e-3,8e-3,9e-3,0.01,0.02,0.03,0.04,0.05,0.06,0.07,0.08,0.09,0.1],
            "tickSize": {"condition": {"test": "abs(log(datum.value)/LN10 - round(log(datum.value)/LN10)) < 0.01", "value": -7}, "value": -3.5},
            "tickColor": "black", "domainColor": "black"
          }},
        "text": {"field": "name"}
      }
    }
  ]
}
